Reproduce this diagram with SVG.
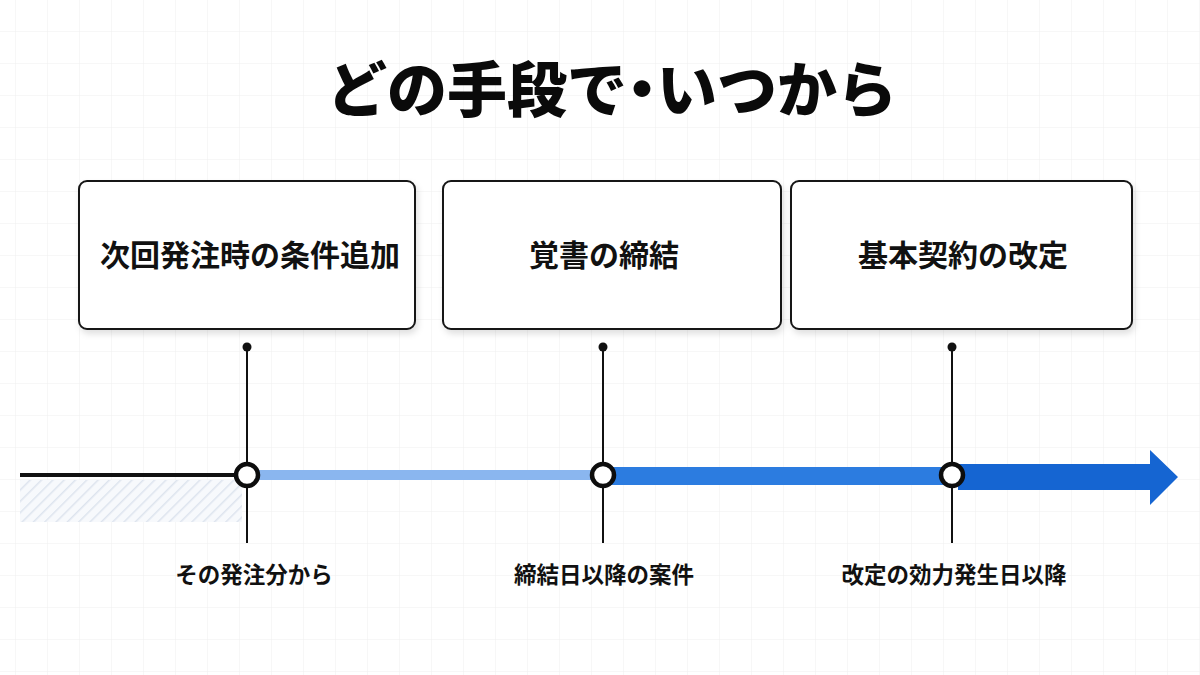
<svg xmlns="http://www.w3.org/2000/svg" width="1200" height="675" viewBox="0 0 1200 675">
<defs>
<pattern id="grid" width="32" height="32" patternUnits="userSpaceOnUse" x="16" y="0">
<path d="M32 0V32M0 32H32" fill="none" stroke="#efefef" stroke-width="1"/>
</pattern>
<pattern id="hatch" width="8" height="8" patternUnits="userSpaceOnUse" patternTransform="rotate(45)">
<rect width="8" height="8" fill="#f7f9fc"/>
<line x1="0" y1="0" x2="0" y2="8" stroke="#dde4ee" stroke-width="3"/>
</pattern>
<filter id="sh" x="-10%" y="-10%" width="120%" height="130%">
<feDropShadow dx="2" dy="4" stdDeviation="3" flood-color="#000" flood-opacity="0.12"/>
</filter>
<marker id="dot" viewBox="0 0 10 10" refX="5" refY="5" markerWidth="10" markerHeight="10" markerUnits="userSpaceOnUse">
<circle cx="5" cy="5" r="4.5" fill="#111"/>
</marker>
</defs>
<style>
.box{fill:#fff;stroke:#151515;stroke-width:2}
.bt{font-family:"Noto Sans CJK JP","Noto Sans",sans-serif;font-weight:700;font-size:30px;fill:#111;text-anchor:middle}
.lbl{font-family:"Noto Sans CJK JP","Noto Sans",sans-serif;font-weight:700;font-size:22.5px;fill:#111;text-anchor:middle}
.vl{stroke:#111;stroke-width:2}
.ms{fill:#fff;stroke:#0d0d0d;stroke-width:4.5}
.palt{font-feature-settings:"palt"}
</style>
<rect width="1200" height="675" fill="#fff"/>
<rect width="1200" height="675" fill="url(#grid)"/>
<text x="612" y="112" font-family="'Noto Sans CJK JP','Noto Sans',sans-serif" font-weight="900" font-size="60" fill="#0a0a0a" text-anchor="middle">どの手段で<tspan class="palt">・</tspan>いつから</text>

<g id="node-1">
<rect class="box" x="79" y="181" width="336" height="148" rx="8" filter="url(#sh)"/>
<text class="bt" x="250" y="266">次回発注時の条件追加</text>
</g>
<g id="node-2">
<rect class="box" x="443" y="181" width="338" height="148" rx="8" filter="url(#sh)"/>
<text class="bt" x="604" y="266">覚書の締結</text>
</g>
<g id="node-3">
<rect class="box" x="791" y="181" width="341" height="148" rx="8" filter="url(#sh)"/>
<text class="bt" x="963" y="266">基本契約の改定</text>
</g>

<g id="timeline">
<rect x="20" y="480" width="222" height="42" fill="url(#hatch)"/>
<line x1="20" y1="475" x2="236" y2="475" stroke="#111" stroke-width="4"/>
<rect x="256" y="470" width="340" height="10" fill="#8ab6ef"/>
<rect x="610" y="467" width="335" height="18" fill="#2c7ce0"/>
<path d="M958 464H1150V450L1178 477L1150 505V490H958Z" fill="#1565d2"/>
</g>

<g id="connectors">
<line class="vl" x1="247" y1="347" x2="247" y2="465" marker-start="url(#dot)"/>
<line class="vl" x1="247" y1="486" x2="247" y2="543"/>
<line class="vl" x1="603" y1="347" x2="603" y2="465" marker-start="url(#dot)"/>
<line class="vl" x1="603" y1="486" x2="603" y2="543"/>
<line class="vl" x1="952" y1="347" x2="952" y2="465" marker-start="url(#dot)"/>
<line class="vl" x1="952" y1="486" x2="952" y2="543"/>
</g>

<g id="milestone-1">
<circle class="ms" cx="247" cy="475" r="11"/>
<text class="lbl" x="254" y="583">その発注分から</text>
</g>
<g id="milestone-2">
<circle class="ms" cx="603" cy="475" r="11"/>
<text class="lbl" x="604" y="583">締結日以降の案件</text>
</g>
<g id="milestone-3">
<circle class="ms" cx="952" cy="475" r="11"/>
<text class="lbl" x="954" y="583">改定の効力発生日以降</text>
</g>
</svg>
